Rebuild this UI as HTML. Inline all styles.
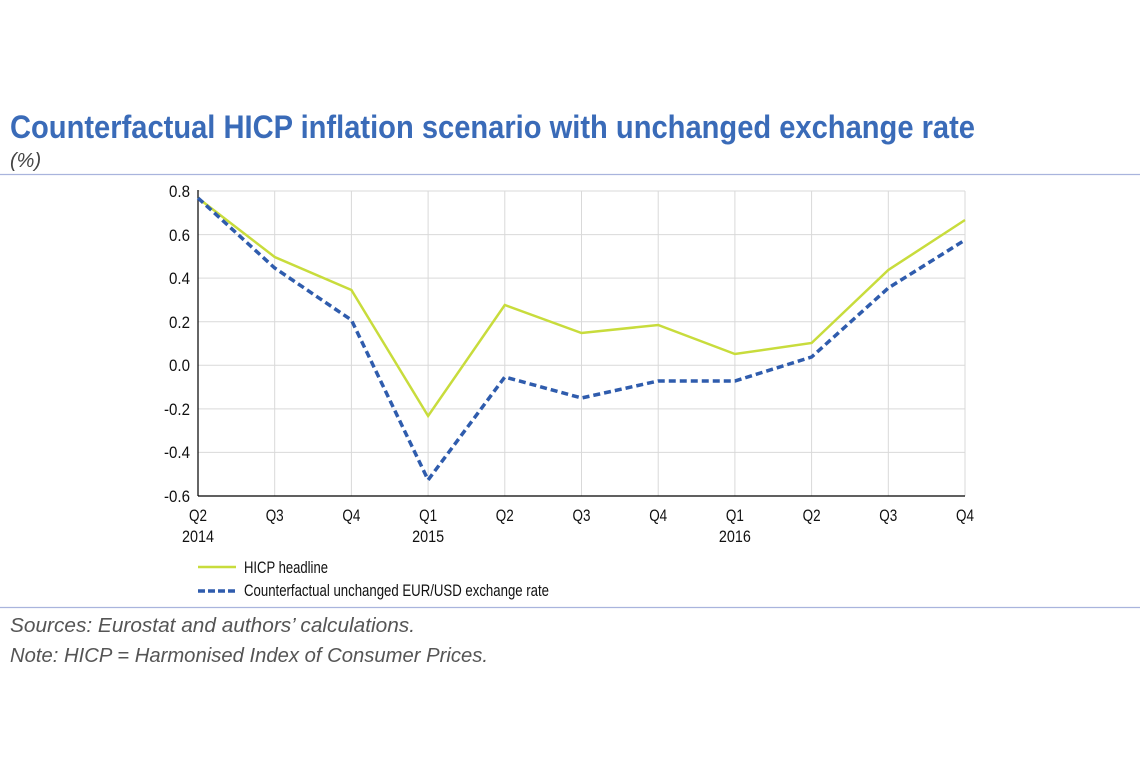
<!DOCTYPE html>
<html><head><meta charset="utf-8"><style>
html,body{margin:0;padding:0;background:#fff;}
svg{display:block;font-family:"Liberation Sans Narrow","Liberation Sans",sans-serif;}
</style></head><body>
<svg width="1140" height="780" viewBox="0 0 1140 780">
<text x="10" y="138" font-size="32" font-weight="bold" fill="#3a6bb8" textLength="965" lengthAdjust="spacingAndGlyphs">Counterfactual HICP inflation scenario with unchanged exchange rate</text>
<text x="10" y="167" font-size="20" font-style="italic" fill="#444" font-family="Liberation Sans, sans-serif">(%)</text>
<line x1="0" y1="174.5" x2="1140" y2="174.5" stroke="#a9b4dd" stroke-width="1.2"/>
<g stroke="#d9d9d9" stroke-width="1">
<line x1="198" y1="191" x2="965" y2="191"/><line x1="198" y1="234.6" x2="965" y2="234.6"/><line x1="198" y1="278.1" x2="965" y2="278.1"/><line x1="198" y1="321.7" x2="965" y2="321.7"/><line x1="198" y1="365.3" x2="965" y2="365.3"/><line x1="198" y1="408.9" x2="965" y2="408.9"/><line x1="198" y1="452.4" x2="965" y2="452.4"/>
<line x1="274.7" y1="191" x2="274.7" y2="496"/><line x1="351.4" y1="191" x2="351.4" y2="496"/><line x1="428.1" y1="191" x2="428.1" y2="496"/><line x1="504.8" y1="191" x2="504.8" y2="496"/><line x1="581.5" y1="191" x2="581.5" y2="496"/><line x1="658.2" y1="191" x2="658.2" y2="496"/><line x1="734.9" y1="191" x2="734.9" y2="496"/><line x1="811.6" y1="191" x2="811.6" y2="496"/><line x1="888.3" y1="191" x2="888.3" y2="496"/><line x1="965" y1="191" x2="965" y2="496"/>
</g>
<line x1="198" y1="190" x2="198" y2="496" stroke="#000" stroke-width="1.2"/>
<line x1="198" y1="496" x2="965" y2="496" stroke="#000" stroke-width="1.2"/>
<g font-size="17" fill="#111" text-anchor="end" lengthAdjust="spacingAndGlyphs">
<text x="190" y="197" textLength="21" lengthAdjust="spacingAndGlyphs">0.8</text><text x="190" y="241" textLength="21" lengthAdjust="spacingAndGlyphs">0.6</text><text x="190" y="284" textLength="21" lengthAdjust="spacingAndGlyphs">0.4</text><text x="190" y="328" textLength="21" lengthAdjust="spacingAndGlyphs">0.2</text><text x="190" y="371" textLength="21" lengthAdjust="spacingAndGlyphs">0.0</text><text x="190" y="415" textLength="26" lengthAdjust="spacingAndGlyphs">-0.2</text><text x="190" y="458" textLength="26" lengthAdjust="spacingAndGlyphs">-0.4</text><text x="190" y="502" textLength="26" lengthAdjust="spacingAndGlyphs">-0.6</text>
</g>
<g font-size="17" fill="#111" text-anchor="middle">
<text x="198" y="521" textLength="18" lengthAdjust="spacingAndGlyphs">Q2</text><text x="274.7" y="521" textLength="18" lengthAdjust="spacingAndGlyphs">Q3</text><text x="351.4" y="521" textLength="18" lengthAdjust="spacingAndGlyphs">Q4</text><text x="428.1" y="521" textLength="18" lengthAdjust="spacingAndGlyphs">Q1</text><text x="504.8" y="521" textLength="18" lengthAdjust="spacingAndGlyphs">Q2</text><text x="581.5" y="521" textLength="18" lengthAdjust="spacingAndGlyphs">Q3</text><text x="658.2" y="521" textLength="18" lengthAdjust="spacingAndGlyphs">Q4</text><text x="734.9" y="521" textLength="18" lengthAdjust="spacingAndGlyphs">Q1</text><text x="811.6" y="521" textLength="18" lengthAdjust="spacingAndGlyphs">Q2</text><text x="888.3" y="521" textLength="18" lengthAdjust="spacingAndGlyphs">Q3</text><text x="965" y="521" textLength="18" lengthAdjust="spacingAndGlyphs">Q4</text>
<text x="198" y="542" textLength="32" lengthAdjust="spacingAndGlyphs">2014</text><text x="428.1" y="542" textLength="32" lengthAdjust="spacingAndGlyphs">2015</text><text x="734.9" y="542" textLength="32" lengthAdjust="spacingAndGlyphs">2016</text>
</g>
<polyline fill="none" stroke="#c8dc3c" stroke-width="2.5" points="198,198 274.7,257 351.4,290 428.1,416 504.8,305 581.5,333 658.2,325 734.9,354 811.6,343 888.3,270 965,220"/>
<polyline fill="none" stroke="#2f5cad" stroke-width="3.5" stroke-dasharray="7,4" points="198,198 274.7,268 351.4,320 428.1,480 504.8,377 581.5,398 658.2,381 734.9,381 811.6,357 888.3,288 965,240"/>
<line x1="198" y1="567" x2="236" y2="567" stroke="#c8dc3c" stroke-width="2.5"/>
<line x1="198" y1="591" x2="236" y2="591" stroke="#2f5cad" stroke-width="3.5" stroke-dasharray="7,3"/>
<text x="244" y="573" font-size="17" fill="#111" textLength="84" lengthAdjust="spacingAndGlyphs">HICP headline</text>
<text x="244" y="596" font-size="17" fill="#111" textLength="305" lengthAdjust="spacingAndGlyphs">Counterfactual unchanged EUR/USD exchange rate</text>
<line x1="0" y1="607.5" x2="1140" y2="607.5" stroke="#a9b4dd" stroke-width="1.2"/>
<g font-size="20" font-style="italic" fill="#555" font-family="Liberation Sans, sans-serif">
<text x="10" y="632" textLength="405" lengthAdjust="spacingAndGlyphs">Sources: Eurostat and authors’ calculations.</text>
<text x="10" y="662" textLength="478" lengthAdjust="spacingAndGlyphs">Note: HICP = Harmonised Index of Consumer Prices.</text>
</g>
</svg>
</body></html>
